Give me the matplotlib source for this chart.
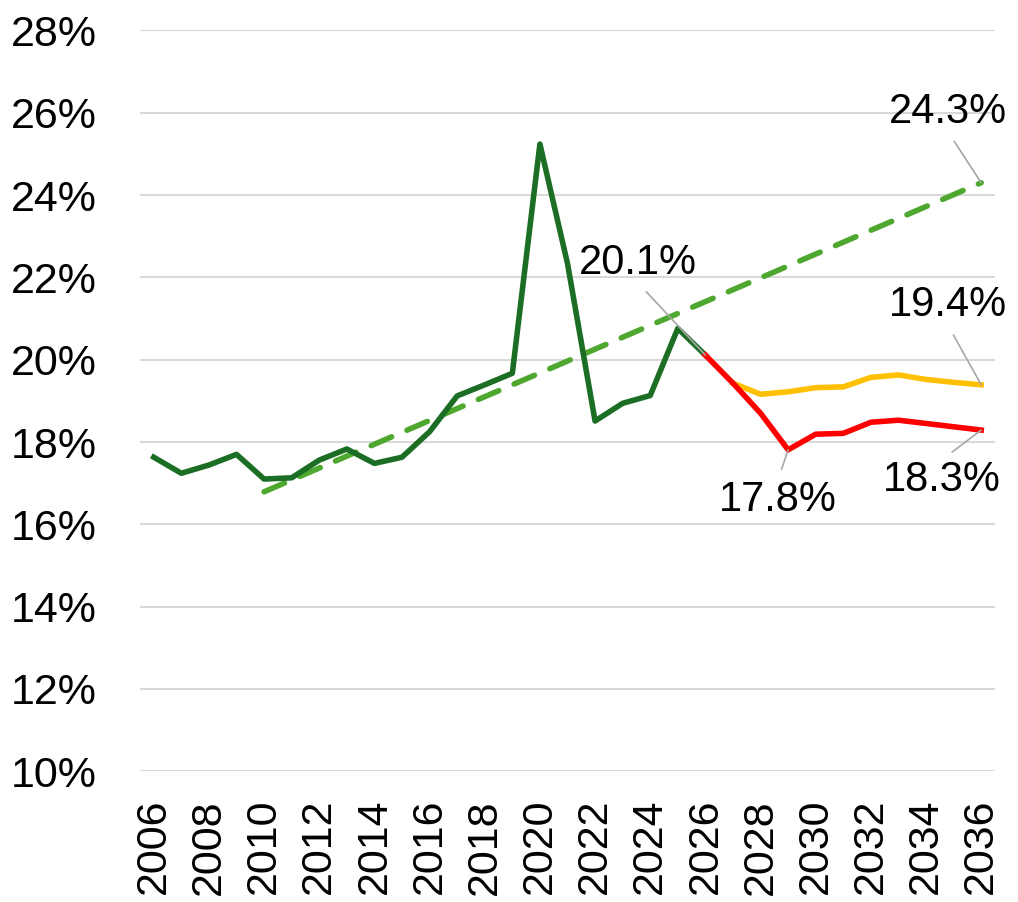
import matplotlib.pyplot as plt

plt.rcParams['font.family'] = ['Liberation Sans', 'DejaVu Sans']

# 历史数据
hist_years = list(range(2006, 2027))
hist_values = [17.63, 17.24, 17.44, 17.70, 17.10, 17.13, 17.56, 17.83, 17.48, 17.63,
               18.25, 19.12, 19.39, 19.67, 25.24, 22.34, 18.51, 18.94, 19.13, 20.76, 20.11]

# 预测情景
high_years = list(range(2027, 2037))
high_values = [19.43, 19.16, 19.22, 19.32, 19.34, 19.57, 19.63, 19.52, 19.45, 19.39]

low_years = list(range(2026, 2037))
low_values = [20.11, 19.43, 18.70, 17.81, 18.19, 18.21, 18.48, 18.53, 18.45, 18.37, 18.29]

# 趋势线端点
trend_years = [2010, 2036]
trend_values = [16.79, 24.30]

GREEN = '#1b6e24'
TREND = '#4ea72e'
YELLOW = '#ffc000'
RED = '#ff0000'
LEADER = '#a6a6a6'

fig = plt.figure(figsize=(10.18, 9.02), dpi=100)
ax = fig.add_axes([0.1375, 0.145, 0.8399, 0.8212])

ax.plot(trend_years, trend_values, color=TREND, lw=4.0, dashes=(4.0, 3.0),
        dash_capstyle='round', zorder=3)
ax.plot(hist_years, hist_values, color=GREEN, lw=4.0, zorder=4)
ax.plot(high_years, high_values, color=YELLOW, lw=4.0, zorder=4)
ax.plot(low_years, low_values, color=RED, lw=4.0, zorder=5)

ax.set_xlim(2005.5, 2036.5)
ax.set_ylim(10, 28)
ax.set_yticks(range(10, 29, 2))
ax.set_yticklabels([f'{v}%' for v in range(10, 29, 2)])
ax.set_xticks(range(2006, 2037, 2))
ax.set_xticklabels([str(y) for y in range(2006, 2037, 2)], rotation=90)
ax.tick_params(axis='y', length=0, pad=31, labelsize=31)
ax.tick_params(axis='x', length=0, pad=20, labelsize=31)
ax.grid(axis='y', color='#d9d9d9', lw=1.5)
ax.set_axisbelow(True)
for s in ax.spines.values():
    s.set_visible(False)

# 数据标签
labels = [
    ('20.1%', (2026, 20.11), (2023.56, 22.35), (0.5, 0.0)),
    ('24.3%', (2036, 24.30), (2034.79, 26.03), (0.5, 0.0)),
    ('19.4%', (2036, 19.39), (2034.79, 21.33), (0.5, 0.0)),
    ('18.3%', (2036, 18.29), (2034.57, 17.08), (0.5, 1.0)),
    ('17.8%', (2029, 17.81), (2028.63, 16.59), (0.5, 1.0)),
]
for txt, xy, xytext, rp in labels:
    ax.annotate(txt, xy=xy, xytext=xytext, ha='center', va='center', fontsize=30,
                annotation_clip=False, zorder=6,
                arrowprops=dict(arrowstyle='-', color=LEADER, lw=1.2,
                                relpos=rp, shrinkA=6, shrinkB=0))

plt.savefig('out.png', dpi=100)
plt.close()
